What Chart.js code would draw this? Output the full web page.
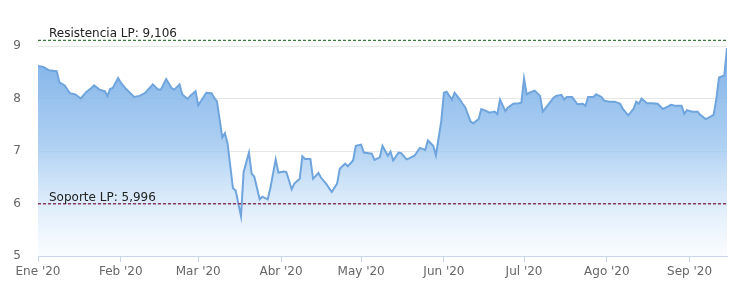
<!DOCTYPE html>
<html>
<head>
<meta charset="utf-8">
<script src="https://cdn.jsdelivr.net/npm/chart.js@4"></script>
<style>
  body { margin: 0; background: #fff; }
  #wrap { width: 755px; height: 294px; position: relative; }
</style>
</head>
<body>
<div id="wrap"><canvas id="lineChart"></canvas></div>
<script>
// days counted from 1 Jan 2020
const days = [0, 2, 4, 7, 8, 10, 11, 12, 14, 16, 18, 20, 21, 23, 25, 26, 27, 28, 30, 31,
  33, 35, 36, 38, 40, 43, 45, 46, 48, 50, 51, 53, 54, 56, 57, 59, 60, 62, 63, 65,
  66, 67, 69, 70, 71, 73, 74, 76, 77, 79, 80, 81, 83, 84, 86, 87, 89, 90, 92, 93,
  95, 96, 98, 99, 100, 102, 103, 105, 106, 108, 110, 112, 113, 115, 116, 118, 119, 121, 122, 125,
  126, 128, 129, 131, 132, 133, 135, 136, 138, 139, 141, 143, 145, 146, 148, 149, 151, 152, 153, 155,
  156, 158, 159, 160, 162, 163, 165, 166, 168, 169, 171, 172, 173, 175, 176, 178, 180, 181, 182, 183,
  184, 186, 188, 189, 191, 193, 194, 196, 197, 198, 200, 202, 204, 205, 206, 208, 209, 211, 212, 214,
  216, 218, 219, 221, 223, 224, 225, 226, 228, 230, 232, 234, 236, 237, 239, 241, 242, 243, 245, 247,
  248, 250, 251, 253, 254, 255, 257, 258];
const prices = [8.62, 8.60, 8.54, 8.52, 8.31, 8.25, 8.17, 8.10, 8.08, 8.00, 8.12, 8.20, 8.25, 8.17, 8.14, 8.05, 8.18, 8.20, 8.39, 8.30,
  8.18, 8.08, 8.03, 8.05, 8.10, 8.27, 8.17, 8.17, 8.37, 8.20, 8.17, 8.27, 8.08, 7.99, 8.05, 8.14, 7.87, 8.03, 8.11, 8.10,
  8.01, 7.95, 7.26, 7.34, 7.14, 6.29, 6.25, 5.76, 6.60, 6.97, 6.57, 6.51, 6.08, 6.13, 6.08, 6.29, 6.84, 6.59, 6.61, 6.60,
  6.27, 6.38, 6.47, 6.90, 6.85, 6.85, 6.47, 6.58, 6.49, 6.37, 6.22, 6.38, 6.66, 6.76, 6.71, 6.82, 7.10, 7.12, 6.97, 6.95,
  6.83, 6.88, 7.10, 6.91, 6.99, 6.82, 6.97, 6.96, 6.84, 6.86, 6.91, 7.06, 7.02, 7.20, 7.10, 6.92, 7.57, 8.11, 8.13, 7.98,
  8.11, 7.98, 7.90, 7.83, 7.56, 7.53, 7.61, 7.80, 7.76, 7.73, 7.75, 7.70, 7.98, 7.76, 7.83, 7.90, 7.91, 7.92, 8.38, 8.08,
  8.11, 8.15, 8.05, 7.75, 7.88, 8.01, 8.05, 8.07, 7.98, 8.03, 8.03, 7.89, 7.90, 7.86, 8.03, 8.03, 8.08, 8.03, 7.96, 7.94,
  7.94, 7.90, 7.80, 7.68, 7.80, 7.94, 7.90, 8.00, 7.91, 7.91, 7.90, 7.80, 7.85, 7.88, 7.86, 7.86, 7.71, 7.78, 7.75, 7.75,
  7.69, 7.61, 7.63, 7.69, 7.99, 8.40, 8.44, 8.96];

const monthTicks = [0, 31, 60, 91, 121, 152, 182, 213, 244];
const monthLabels = ["Ene '20", "Feb '20", "Mar '20", "Abr '20", "May '20", "Jun '20", "Jul '20", "Ago '20", "Sep '20"];
const yTicks = [5, 6, 7, 8, 9];

const resistance = 9.106;
const support = 5.996;
const levelLabels = ["Resistencia LP: 9,106", "Soporte LP: 5,996"];

const points = days.map((d, i) => ({ x: d, y: prices[i] }));
const firstDay = days[0];
const lastDay = days[days.length - 1];

// text over the two level lines
const levelText = {
  id: "levelText",
  afterDatasetsDraw(chart) {
    const { ctx, chartArea, scales } = chart;
    ctx.save();
    ctx.font = "12px 'DejaVu Sans'";
    ctx.fillStyle = "#222";
    ctx.textBaseline = "alphabetic";
    ctx.fillText(levelLabels[0], chartArea.left + 11, scales.y.getPixelForValue(resistance) - 3);
    ctx.fillText(levelLabels[1], chartArea.left + 11, scales.y.getPixelForValue(support) - 3);
    ctx.restore();
  },
};

const config = {
  type: "line",
  data: {
    datasets: [
      {
        label: "Resistencia",
        data: [{ x: firstDay, y: resistance }, { x: lastDay, y: resistance }],
        borderColor: "#3c7a3c",
        borderWidth: 1.2,
        borderDash: [3, 2],
        pointRadius: 0,
        fill: false,
      },
      {
        label: "Soporte",
        data: [{ x: firstDay, y: support }, { x: lastDay, y: support }],
        borderColor: "#8a3b5e",
        borderWidth: 1.5,
        borderDash: [3, 2],
        pointRadius: 0,
        fill: false,
      },
      {
        label: "Precio",
        data: points,
        borderColor: "#6fa5dc",
        borderWidth: 2,
        pointRadius: 0,
        tension: 0,
        fill: "start",
        backgroundColor: (context) => {
          const area = context.chart.chartArea;
          if (!area) return "rgba(124,181,236,0.8)";
          const g = context.chart.ctx.createLinearGradient(0, area.top, 0, area.bottom);
          g.addColorStop(0, "rgba(118,172,230,1)");
          g.addColorStop(0.5, "rgba(160,200,240,0.85)");
          g.addColorStop(1, "rgba(200,225,250,0.1)");
          return g;
        },
      },
    ],
  },
  options: {
    responsive: true,
    maintainAspectRatio: false,
    animation: false,
    layout: { padding: { top: 35, right: 28, left: 0, bottom: 0 } },
    plugins: { legend: { display: false }, tooltip: { enabled: false } },
    scales: {
      x: {
        type: "linear",
        min: firstDay,
        max: lastDay,
        afterBuildTicks: (scale) => { scale.ticks = monthTicks.map((v) => ({ value: v })); },
        afterFit: (scale) => { scale.height = 38; },
        ticks: {
          autoSkip: false,
          maxRotation: 0,
          padding: 3,
          color: "#666",
          font: { family: "DejaVu Sans", size: 12 },
          callback: (v) => monthLabels[monthTicks.indexOf(v)],
        },
        grid: { drawOnChartArea: false, tickLength: 6, color: "#ccd6eb" },
        border: { color: "#ccd6eb" },
      },
      y: {
        min: 5,
        max: 9.21,
        afterBuildTicks: (scale) => { scale.ticks = yTicks.map((v) => ({ value: v })); },
        afterFit: (scale) => { scale.width = 38; },
        ticks: {
          padding: 17,
          color: "#666",
          font: { family: "DejaVu Sans", size: 12 },
        },
        grid: { drawTicks: false, color: "#e6e6e6" },
        border: { display: false },
      },
    },
  },
  plugins: [levelText],
};

new Chart(document.getElementById("lineChart"), config);
</script>
</body>
</html>
